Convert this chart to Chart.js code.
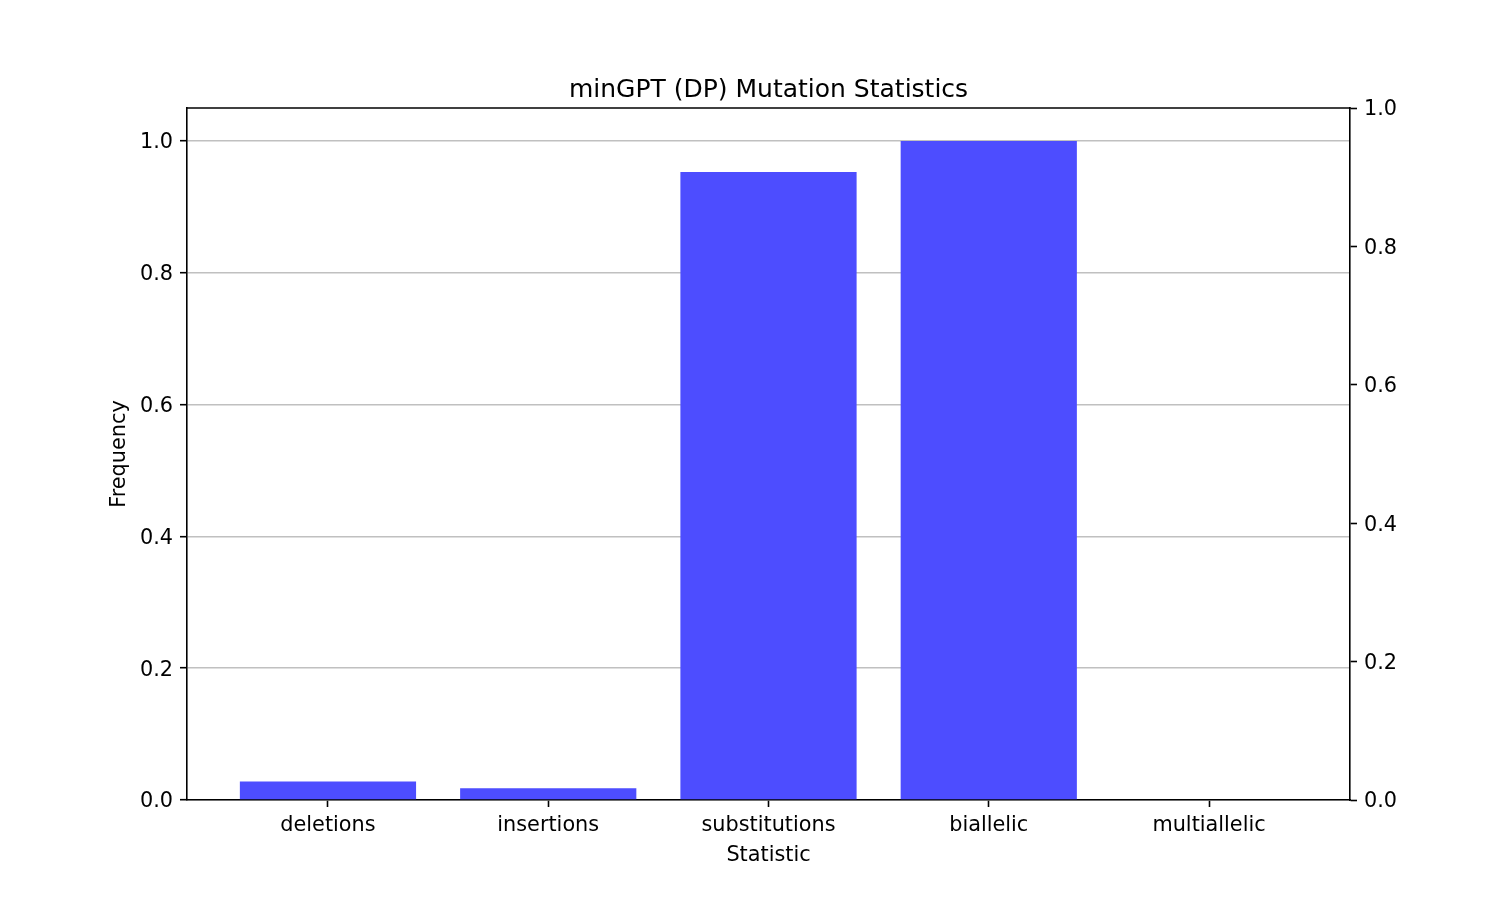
<!DOCTYPE html>
<html>
<head>
<meta charset="utf-8">
<script src="https://cdn.jsdelivr.net/npm/chart.js@4/dist/chart.umd.min.js"></script>
<style>
  html, body { margin: 0; padding: 0; background: #fff; }
  canvas { display: block; }
</style>
</head>
<body>
<canvas id="c" width="1500" height="900" style="width:1500px;height:900px"></canvas>
<script>
const categories = ["deletions", "insertions", "substitutions", "biallelic", "multiallelic"];
const frequencies = [0.028, 0.018, 0.953, 1.0, 0.0];
const leftTicks = [0.0, 0.2, 0.4, 0.6, 0.8, 1.0];
const rightTicks = [0.0, 0.2, 0.4, 0.6, 0.8, 1.0];
const titleText = "minGPT (DP) Mutation Statistics";
const xTitle = "Statistic";
const yTitle = "Frequency";

Chart.defaults.font.family = "'DejaVu Sans', sans-serif";
Chart.defaults.color = '#000';

const spinePlugin = {
  id: 'topSpine',
  afterDraw(chart) {
    const {ctx, chartArea} = chart;
    ctx.save();
    ctx.strokeStyle = '#000';
    ctx.lineWidth = 1.6;
    ctx.beginPath();
    ctx.moveTo(chartArea.left - 0.8, chartArea.top);
    ctx.lineTo(chartArea.right + 0.8, chartArea.top);
    ctx.stroke();
    ctx.restore();
  }
};

const tickFont = { size: 20.8 };

new Chart(document.getElementById('c'), {
  type: 'bar',
  data: {
    datasets: [{
      data: categories.map((c, i) => ({ x: i, y: frequencies[i] })),
      backgroundColor: '#4d4dff',
      borderWidth: 0,
      barPercentage: 0.8,
      categoryPercentage: 1.0,
      yAxisID: 'y'
    }]
  },
  options: {
    responsive: false,
    devicePixelRatio: 1,
    animation: false,
    layout: { padding: { left: 107.5, right: 70.5, top: 75, bottom: 31.5 } },
    plugins: {
      legend: { display: false },
      tooltip: { enabled: false },
      title: {
        display: true,
        text: titleText,
        color: '#000',
        font: { size: 25, weight: 'normal' },
        padding: { top: 0, bottom: 3 }
      }
    },
    scales: {
      x: {
        type: 'linear',
        position: 'bottom',
        min: -0.64,
        max: 4.64,
        offset: false,
        z: 1,
        afterBuildTicks(scale) { scale.ticks = categories.map((c, i) => ({ value: i })); },
        afterFit(scale) { scale.height = 68.5; },
        ticks: {
          font: tickFont,
          padding: 6.5,
          maxRotation: 0,
          autoSkip: false,
          callback: (v) => categories[v] !== undefined ? categories[v] : ''
        },
        grid: { display: true, offset: false, drawOnChartArea: false, drawTicks: true, tickLength: 7, tickColor: '#000', tickWidth: 1.6 },
        border: { display: true, color: '#000', width: 1.6 },
        title: { display: true, text: xTitle, font: { size: 20.8 }, padding: { top: 0, bottom: 0 } }
      },
      y: {
        type: 'linear',
        position: 'left',
        min: 0,
        max: 1.05,
        z: 1,
        afterBuildTicks(scale) { scale.ticks = leftTicks.map(v => ({ value: v })); },
        afterFit(scale) { scale.width = 79.5; },
        ticks: { font: tickFont, padding: 7, labelOffset: 2, callback: (v) => Number(v).toFixed(1) },
        grid: { display: true, color: '#c0c0c0', lineWidth: 1.4, drawTicks: true, tickLength: 7, tickColor: '#000', tickWidth: 1.6 },
        border: { display: true, color: '#000', width: 1.6 },
        title: { display: true, text: yTitle, font: { size: 20.8 }, padding: { top: 0, bottom: 0 } }
      },
      y2: {
        type: 'linear',
        position: 'right',
        min: 0,
        max: 1.0,
        afterBuildTicks(scale) { scale.ticks = rightTicks.map(v => ({ value: v })); },
        afterFit(scale) { scale.width = 79.5; },
        ticks: { font: tickFont, padding: 7, labelOffset: 2, callback: (v) => Number(v).toFixed(1) },
        grid: { display: true, drawOnChartArea: false, drawTicks: true, tickLength: 7, tickColor: '#000', tickWidth: 1.6 },
        border: { display: true, color: '#000', width: 1.6 }
      }
    }
  },
  plugins: [spinePlugin]
});
</script>
</body>
</html>
